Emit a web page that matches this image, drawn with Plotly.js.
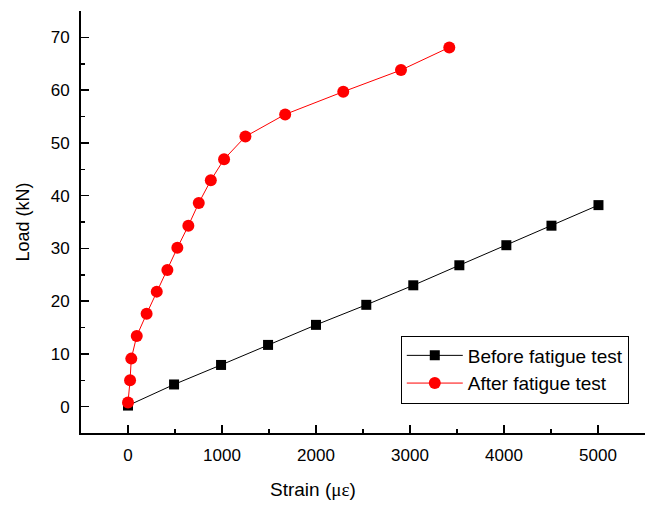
<!DOCTYPE html>
<html>
<head>
<meta charset="utf-8">
<script src="https://cdn.plot.ly/plotly-3.0.1.min.js"></script>
<style>html,body{margin:0;padding:0;background:#fff;}#chart{width:645px;height:507px;}</style>
</head>
<body>
<div id="chart"></div>
<script>
// Before fatigue test
const beforeStrain = [0, 490, 990, 1490, 2000, 2535, 3035, 3525, 4025, 4505, 5005];
const beforeLoad   = [0.2, 4.2, 7.9, 11.7, 15.5, 19.3, 23.0, 26.8, 30.6, 34.3, 38.2];
// After fatigue test
const afterStrain = [0, 22, 35, 93, 198, 306, 419, 525, 642, 753, 881, 1022, 1249, 1672, 2290, 2904, 3418];
const afterLoad   = [0.8, 5.0, 9.1, 13.4, 17.6, 21.8, 25.9, 30.1, 34.3, 38.6, 42.9, 46.9, 51.2, 55.4, 59.7, 63.8, 68.1];

const seriesNames = ["Before fatigue test", "After fatigue test"];
const xTitle = "Strain (<span style='font-family:serif'>με</span>)";
const yTitle = "Load (kN)";

const traces = [
  {x: beforeStrain, y: beforeLoad, name: seriesNames[0], type: "scatter", mode: "lines+markers",
   line: {color: "#000000", width: 1}, marker: {symbol: "square", size: 10, color: "#000000"}},
  {x: afterStrain, y: afterLoad, name: seriesNames[1], type: "scatter", mode: "lines+markers",
   line: {color: "#ff0000", width: 1}, marker: {symbol: "circle", size: 12, color: "#ff0000"}}
];

const font = {family: "Arial, 'Liberation Sans', sans-serif", color: "#000", size: 17};

const layout = {
  width: 645, height: 507,
  margin: {l: 81, r: 0, t: 11, b: 74},
  paper_bgcolor: "#fff", plot_bgcolor: "#fff",
  font: font,
  showlegend: true,
  legend: {x: 0.567, y: 0.231, xanchor: "left", yanchor: "top",
    bordercolor: "#000", borderwidth: 1, bgcolor: "#fff",
    font: {family: font.family, size: 19, color: "#000"},
    tracegroupgap: 0, itemwidth: 56},
  xaxis: {
    range: [-500, 5500], tickvals: [0,1000,2000,3000,4000,5000], ticktext: ["0","1000","2000","3000","4000","5000"],
    ticks: "inside", ticklen: 8, tickwidth: 1.5, tickcolor: "#000",
    minor: {dtick: 500, tick0: 0, ticks: "inside", ticklen: 4, tickwidth: 1.5, tickcolor: "#000"},
    showline: true, linecolor: "#000", linewidth: 2, showgrid: false, zeroline: false,
    ticklabelstandoff: 6
  },
  yaxis: {
    range: [-5, 75], tickvals: [0,10,20,30,40,50,60,70],
    ticks: "inside", ticklen: 8, tickwidth: 1.5, tickcolor: "#000",
    minor: {dtick: 5, tick0: 0, ticks: "inside", ticklen: 4, tickwidth: 1.5, tickcolor: "#000"},
    showline: true, linecolor: "#000", linewidth: 2, showgrid: false, zeroline: false,
    ticklabelstandoff: 6,
    title: {text: yTitle, font: {size: 18}, standoff: 16}
  },
  annotations: [
    {text: xTitle, xref: "paper", yref: "paper", x: 0.411, y: -0.133, xanchor: "center", yanchor: "middle",
     showarrow: false, font: {size: 19, color: "#000"}}
  ]
};

Plotly.newPlot("chart", traces, layout, {displayModeBar: false, staticPlot: true});
</script>
</body>
</html>
